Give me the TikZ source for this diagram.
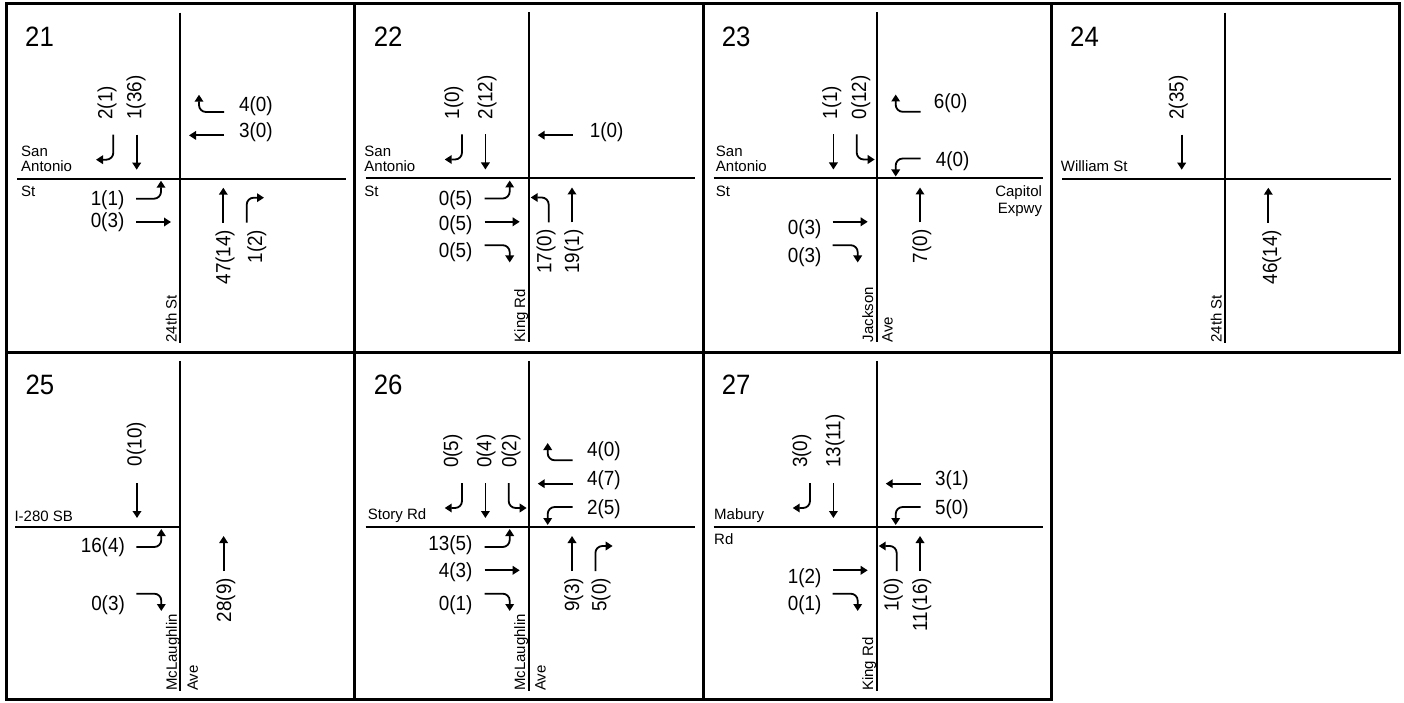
\documentclass[tikz,border=0pt]{standalone}
\usepackage{fontspec}
\setmainfont{Liberation Sans}
\newfontfamily\numfont[FakeStretch=0.92]{Liberation Sans}
\usetikzlibrary{arrows.meta}
\tikzset{
  mv/.style={line width=1.8pt, rounded corners=7pt, -{Triangle[length=7pt,width=8.5pt]}},
  road/.style={line width=2pt},
  frame/.style={line width=3pt},
  vol/.style={font=\numfont\fontsize{20.5}{22}\selectfont, inner sep=0pt},
  sbl/.style={vol, rotate=90, anchor=west},
  nbl/.style={vol, rotate=90, anchor=east},
  wbl/.style={vol, anchor=west},
  ebl/.style={vol, anchor=east},
  pnum/.style={font=\numfont\fontsize{28}{30}\selectfont, inner sep=0pt, anchor=base west},
  st/.style={font=\fontsize{15}{16}\selectfont, inner sep=0pt, anchor=base west},
  ste/.style={st, anchor=base east},
  stv/.style={st, rotate=90},
}
\newcommand\mvTH{\draw[mv] (-43.3,44) -- (-43.3,9);}
\newcommand\mvRT{\draw[mv] (-66.7,44) -- (-66.7,19) -- (-84,19);}
\newcommand\mvLT{\draw[mv] (-20,44) -- (-20,19) -- (-2,19);}
\newcommand\appr[2]{\begin{scope}[rotate=#1]#2\end{scope}}
\newcommand\roads{\draw[road] (0,166) -- (0,-164); \draw[road] (-163,0) -- (166,0);}
\begin{document}
\begin{tikzpicture}[x=1pt,y=1pt]
\fill[white] (0,0) rectangle (1404,702);
\useasboundingbox (0,0) rectangle (1404,702);

% ---------- 21
\begin{scope}[shift={(180,523.3)}]
  \roads
  \node[pnum] (n21) at (-155,132.3) {21};
  \appr{0}{\mvRT\mvTH}
  \appr{-90}{\mvRT\mvTH}
  \appr{90}{\mvLT\mvTH}
  \appr{180}{\mvTH\mvRT}
  \node[sbl] (a21s1) at (-73,59) {2(1)};
  \node[sbl] (a21s2) at (-44,59) {1(36)};
  \node[wbl] (a21w1) at (59,73) {4(0)};
  \node[wbl] (a21w2) at (59,46.3) {3(0)};
  \node[ebl] (a21e1) at (-55.5,-21.7) {1(1)};
  \node[ebl] (a21e2) at (-55.5,-43.7) {0(3)};
  \node[nbl] (a21n1) at (45,-51) {47(14)};
  \node[nbl] (a21n2) at (76.7,-51) {1(2)};
  \node[st] (s21a) at (-159,22.3) {San};
  \node[st] (s21b) at (-159,7.3) {Antonio};
  \node[st] (s21c) at (-159,-17.7) {St};
  \node[stv] (s21d) at (-3.5,-164) {24th St};
\end{scope}

% ---------- 22
\begin{scope}[shift={(528.7,523.5)}]
  \roads
  \node[pnum] (n22) at (-155,132.3) {22};
  \appr{0}{\mvRT\mvTH}
  \appr{-90}{\mvTH}
  \appr{90}{\mvLT\mvTH\mvRT}
  \appr{180}{\mvLT\mvTH}
  \node[sbl] (a22s1) at (-75,59) {1(0)};
  \node[sbl] (a22s2) at (-41.7,59) {2(12)};
  \node[wbl] (a22w1) at (61,46.6) {1(0)};
  \node[ebl] (a22e1) at (-56,-21.7) {0(5)};
  \node[ebl] (a22e2) at (-56,-46.7) {0(5)};
  \node[ebl] (a22e3) at (-56,-74) {0(5)};
  \node[nbl] (a22n1) at (17.3,-51) {17(0)};
  \node[nbl] (a22n2) at (45,-51) {19(1)};
  \node[st] (s22a) at (-164.5,22.3) {San};
  \node[st] (s22b) at (-164.5,7.3) {Antonio};
  \node[st] (s22c) at (-164.5,-17.7) {St};
  \node[stv] (s22d) at (-3.5,-164) {King Rd};
\end{scope}

% ---------- 23
\begin{scope}[shift={(876.7,523.5)}]
  \roads
  \node[pnum] (n23) at (-155,132.3) {23};
  \appr{0}{\mvTH\mvLT}
  \appr{-90}{\mvRT\mvLT}
  \appr{90}{\mvTH\mvRT}
  \appr{180}{\mvTH}
  \node[sbl] (a23s1) at (-45,59) {1(1)};
  \node[sbl] (a23s2) at (-16,59) {0(12)};
  \node[wbl] (a23w1) at (57,75) {6(0)};
  \node[wbl] (a23w2) at (59,17.3) {4(0)};
  \node[ebl] (a23e1) at (-55,-50.7) {0(3)};
  \node[ebl] (a23e2) at (-55,-78.8) {0(3)};
  \node[nbl] (a23n1) at (45,-51) {7(0)};
  \node[st] (s23a) at (-161,22.3) {San};
  \node[st] (s23b) at (-161,7.3) {Antonio};
  \node[st] (s23c) at (-161,-17.7) {St};
  \node[ste] (s23e) at (165.5,-18.4) {Capitol};
  \node[ste] (s23f) at (165.5,-34.7) {Expwy};
  \node[stv] (s23d) at (-3.5,-164) {Jackson};
  \node[stv] (s23g) at (16,-164) {Ave};
\end{scope}

% ---------- 24
\begin{scope}[shift={(1225,523.3)}]
  \roads
  \node[pnum] (n24) at (-155,132.3) {24};
  \appr{0}{\mvTH}
  \appr{180}{\mvTH}
  \node[sbl] (a24s1) at (-46.7,59) {2(35)};
  \node[nbl] (a24n1) at (46.7,-51) {46(14)};
  \node[st] (s24a) at (-164.3,7.3) {William St};
  \node[stv] (s24d) at (-3.5,-164) {24th St};
\end{scope}

% ---------- 25
\begin{scope}[shift={(180.3,175)}]
  \draw[road] (0,166) -- (0,-164);
  \draw[road] (-165,0) -- (0,0);
  \node[pnum] (n25) at (-155,132.3) {25};
  \appr{0}{\mvTH}
  \appr{90}{\mvLT\mvRT}
  \appr{180}{\mvTH}
  \node[sbl] (a25s1) at (-44,60.7) {0(10)};
  \node[ebl] (a25e1) at (-55.3,-20.3) {16(4)};
  \node[ebl] (a25e2) at (-55.3,-77.7) {0(3)};
  \node[nbl] (a25n1) at (45.4,-51) {28(9)};
  \node[st] (s25a) at (-166,5.7) {I-280 SB};
  \node[stv] (s25d) at (-3.5,-164) {McLaughlin};
  \node[stv] (s25g) at (17.5,-164) {Ave};
\end{scope}

% ---------- 26
\begin{scope}[shift={(528.7,175)}]
  \roads
  \node[pnum] (n26) at (-155,132.3) {26};
  \appr{0}{\mvRT\mvTH\mvLT}
  \appr{-90}{\mvRT\mvTH\mvLT}
  \appr{90}{\mvLT\mvTH\mvRT}
  \appr{180}{\mvTH\mvRT}
  \node[sbl] (a26s1) at (-76,59) {0(5)};
  \node[sbl] (a26s2) at (-42.7,59) {0(4)};
  \node[sbl] (a26s3) at (-17.7,59) {0(2)};
  \node[wbl] (a26w1) at (58.3,75.7) {4(0)};
  \node[wbl] (a26w2) at (58.3,46.7) {4(7)};
  \node[wbl] (a26w3) at (58.3,18) {2(5)};
  \node[ebl] (a26e1) at (-56,-17.7) {13(5)};
  \node[ebl] (a26e2) at (-56,-45.3) {4(3)};
  \node[ebl] (a26e3) at (-56,-77.7) {0(1)};
  \node[nbl] (a26n1) at (45,-51) {9(3)};
  \node[nbl] (a26n2) at (72.3,-51) {5(0)};
  \node[st] (s26a) at (-161,7.3) {Story Rd};
  \node[stv] (s26d) at (-3.5,-164) {McLaughlin};
  \node[stv] (s26g) at (17,-164) {Ave};
\end{scope}

% ---------- 27
\begin{scope}[shift={(876.7,175)}]
  \roads
  \node[pnum] (n27) at (-155,132.3) {27};
  \appr{0}{\mvRT\mvTH}
  \appr{-90}{\mvTH\mvLT}
  \appr{90}{\mvTH\mvRT}
  \appr{180}{\mvLT\mvTH}
  \node[sbl] (a27s1) at (-75,59) {3(0)};
  \node[sbl] (a27s2) at (-41.7,59) {13(11)};
  \node[wbl] (a27w1) at (58.3,47.3) {3(1)};
  \node[wbl] (a27w2) at (58.3,18) {5(0)};
  \node[ebl] (a27e1) at (-55,-51) {1(2)};
  \node[ebl] (a27e2) at (-55,-77.7) {0(1)};
  \node[nbl] (a27n1) at (16.7,-51) {1(0)};
  \node[nbl] (a27n2) at (45,-51) {11(16)};
  \node[st] (s27a) at (-162.7,7.3) {Mabury};
  \node[st] (s27b) at (-162.7,-17.7) {Rd};
  \node[stv] (s27d) at (-3.5,-164) {King Rd};
\end{scope}

% ---------- frame
\draw[frame] (6,698.3) -- (1399,698.3) -- (1399,349.5) -- (1051,349.5) -- (1051,3) -- (6,3) -- cycle;
\draw[frame] (6,349.5) -- (1051,349.5);
\draw[frame] (354,3) -- (354,698.3);
\draw[frame] (703,3) -- (703,698.3);
\draw[frame] (1051,349.5) -- (1051,698.3);
\end{tikzpicture}
\end{document}
